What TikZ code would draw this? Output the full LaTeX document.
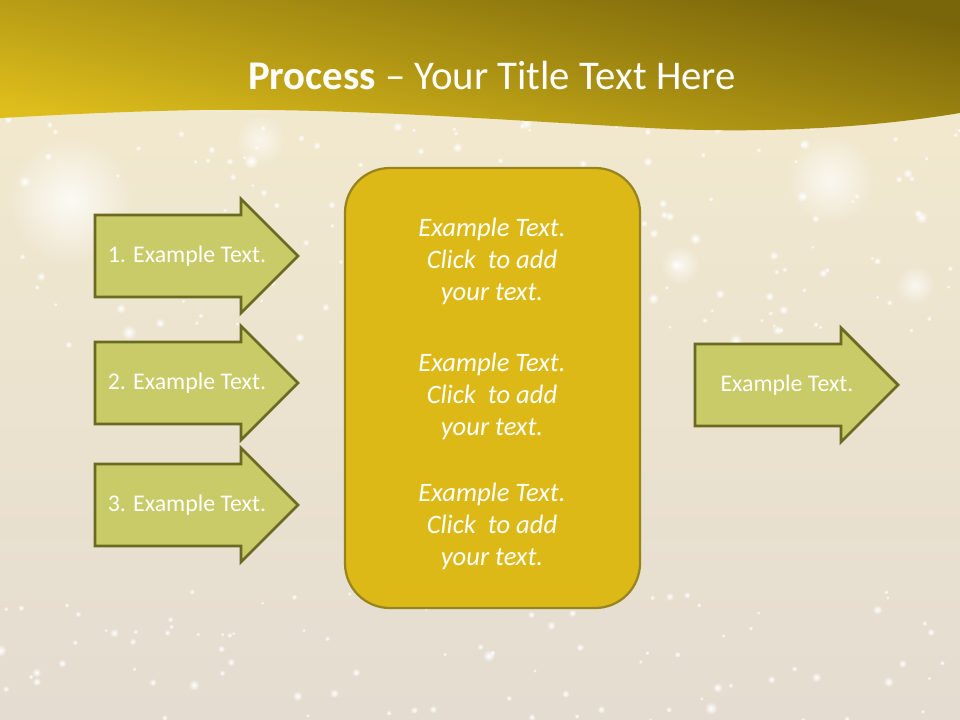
\documentclass[tikz,border=0pt]{standalone}
\usepackage{fontspec}
\setmainfont{Carlito}
\usetikzlibrary{positioning,fadings}

\definecolor{bandlight}{RGB}{222,190,28}
\definecolor{banddark}{RGB}{122,102,10}
\definecolor{bgtop}{RGB}{244,235,206}
\definecolor{bgbottom}{RGB}{228,220,208}
\definecolor{arrowfill}{RGB}{201,202,104}
\definecolor{arrowline}{RGB}{108,106,34}
\definecolor{boxfill}{RGB}{221,185,24}
\definecolor{boxline}{RGB}{152,132,30}

\tikzfading[name=glow, inner color=transparent!0, outer color=transparent!100]

\newcommand{\textarrow}[4]{
    \draw[arrowbox] (#2, #3-41) -- ++(146, 0) -- ++(0, -16) -- ++(57, 57)
    -- ++(-57, 57) -- ++(0, -16) -- ++(-146, 0) -- cycle;
    \node[arrowtext] (#1) at (#2+92, #3) {#4};
}

\begin{document}
\begin{tikzpicture}[
        x=0.025cm, y=-0.025cm,
        arrowbox/.style={line width=2pt,fill=arrowfill,draw=arrowline,line join=miter},
        arrowtext/.style={text=white,font=\fontsize{17}{20}\selectfont},
        bigbox/.style={line width=1.6pt,fill=boxfill,draw=boxline,rounded corners=1.12cm},
        boxtext/.style={text=white,align=center,font=\fontsize{18.9}{22.8}\selectfont\itshape},
        sparkle/.style={white,path fading=glow}
    ]
    \useasboundingbox (0, 0) rectangle (960, 720);
    \shade[top color=bgtop, bottom color=bgbottom] (0, 0) rectangle (960, 720);

    % sparkles
    \pgfmathsetseed{17}
    \foreach \i in {1,...,160} {
        \pgfmathsetmacro{\sx}{960*rnd}
        \pgfmathsetmacro{\sy}{115+230*rnd}
        \pgfmathsetmacro{\sr}{2+6*rnd*rnd}
        \fill[sparkle] (\sx, \sy) circle ({\sr*0.7pt});
    }
    \foreach \i in {1,...,90} {
        \pgfmathsetmacro{\sx}{960*rnd}
        \pgfmathsetmacro{\sy}{590+130*rnd}
        \pgfmathsetmacro{\sr}{2+5*rnd*rnd}
        \fill[sparkle] (\sx, \sy) circle ({\sr*0.7pt});
    }
    \fill[sparkle, opacity=0.8] (70, 200) circle (45pt);
    \fill[sparkle, opacity=0.7] (830, 180) circle (32pt);
    \fill[sparkle, opacity=0.7] (680, 265) circle (14pt);
    \fill[sparkle, opacity=0.7] (915, 285) circle (14pt);
    \fill[sparkle, opacity=0.6] (260, 140) circle (18pt);

    % title band
    \shade[top color=banddark, bottom color=bandlight, shading angle=-12]
    (0, 0) -- (960, 0) -- (960, 113) .. controls (870, 128) and (760, 134) .. (650, 128)
    .. controls (500, 120) and (350, 108) .. (200, 110)
    .. controls (100, 112) and (40, 116) .. (0, 118) -- cycle;
    \node[text=white, font=\fontsize{29}{34}\selectfont] (title) at (492, 75)
    {\textbf{Process} -- Your Title Text Here};

    \textarrow{in1}{95}{256}{1. Example Text.}
    \textarrow{in2}{95}{383}{2. Example Text.}
    \textarrow{in3}{95}{505}{3. Example Text.}
    \textarrow{out}{695}{385}{Example Text.}

    \draw[bigbox] (345, 168) rectangle (640, 608);
    \node[boxtext] (step1) at (492, 261) {Example Text.\\Click\ \ to add\\your text.};
    \node[boxtext] (step2) at (492, 396) {Example Text.\\Click\ \ to add\\your text.};
    \node[boxtext] (step3) at (492, 526) {Example Text.\\Click\ \ to add\\your text.};
\end{tikzpicture}
\end{document}
